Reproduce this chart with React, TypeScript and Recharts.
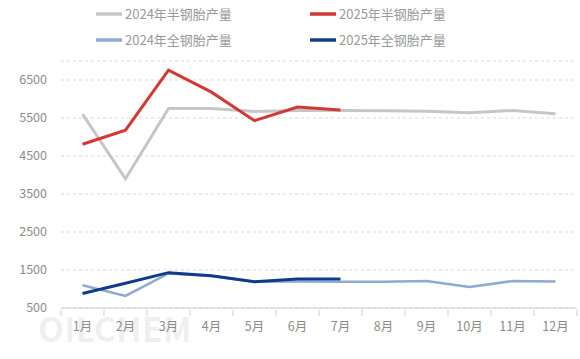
import { CartesianGrid, Line, LineChart, XAxis, YAxis } from "recharts";

const months = ["1月", "2月", "3月", "4月", "5月", "6月", "7月", "8月", "9月", "10月", "11月", "12月"];
const semiSteel2024 = [5600, 3900, 5750, 5750, 5670, 5700, 5700, 5690, 5680, 5640, 5700, 5610];
const semiSteel2025 = [4810, 5180, 6760, 6180, 5430, 5790, 5710, null, null, null, null, null];
const allSteel2024 = [1100, 820, 1410, 1340, 1190, 1200, 1190, 1190, 1210, 1050, 1210, 1200];
const allSteel2025 = [880, 1150, 1430, 1350, 1190, 1260, 1260, null, null, null, null, null];
const yTicks = [500, 1500, 2500, 3500, 4500, 5500, 6500];

const data = months.map((month, i) => ({
  month,
  semi2024: semiSteel2024[i],
  semi2025: semiSteel2025[i],
  all2024: allSteel2024[i],
  all2025: allSteel2025[i]
}));

const series = [
  { key: "semi2024", name: "2024年半钢胎产量", color: "#c6c6c6", width: 3 },
  { key: "all2024", name: "2024年全钢胎产量", color: "#8eaad0", width: 2.5 },
  { key: "semi2025", name: "2025年半钢胎产量", color: "#d03a32", width: 3 },
  { key: "all2025", name: "2025年全钢胎产量", color: "#0e3c8a", width: 3 }
];

const legendOrder = [
  ["semi2024", "semi2025"],
  ["all2024", "all2025"]
];

const font = '"Noto Sans CJK SC", "Noto Sans", sans-serif';
const band = 43;

function ChartLegend() {
  return (
    <svg width={580} height={52} style={{ position: "absolute", left: 0, top: 0 }}>
      {legendOrder.map((row, r) =>
        row.map((key, c) => {
          const s = series.find((item) => item.key === key)!;
          const x = c === 0 ? 96 : 310;
          const y = 14 + r * 26;
          return (
            <g key={key}>
              <line x1={x} x2={x + 26} y1={y} y2={y} stroke={s.color} strokeWidth={3.5} />
              <text x={x + 29} y={y + 4.5} fontSize={13} fill="#9a9a9a" fontFamily={font}>
                {s.name}
              </text>
            </g>
          );
        })
      )}
    </svg>
  );
}

// ticks sit between months, like a boundary-gap category axis
function MonthTick(props: any) {
  const { x, y, payload, index } = props;
  const left = x - band / 2;
  return (
    <g>
      <line x1={left} x2={left} y1={y - 6} y2={y} stroke="#cfcfcf" />
      {index === months.length - 1 ? (
        <line x1={left + band} x2={left + band} y1={y - 6} y2={y} stroke="#cfcfcf" />
      ) : null}
      <text x={x} y={y + 15} textAnchor="middle" fontSize={12.5} fill="#8c8c8c" fontFamily={font}>
        {payload.value}
      </text>
    </g>
  );
}

export default function App() {
  return (
    <div style={{ position: "absolute", left: 0, top: 0, width: 580, height: 359, background: "#fff" }}>
      <LineChart width={580} height={359} data={data} margin={{ top: 61, right: 3, bottom: 0, left: 0 }}>
        <CartesianGrid stroke="#d9d9d9" strokeDasharray="3 3" vertical={false} />
        <XAxis
          dataKey="month"
          axisLine={{ stroke: "#cfcfcf" }}
          tickLine={false}
          tick={<MonthTick />}
          interval={0}
          padding={{ left: band / 2, right: band / 2 }}
          height={51}
        />
        <YAxis
          domain={[500, 7000]}
          ticks={yTicks}
          width={61}
          axisLine={false}
          tickLine={false}
          tick={{ fontSize: 12.5, fill: "#8c8c8c", fontFamily: font }}
          tickMargin={8}
        />
        {series.map((s) => (
          <Line
            key={s.key}
            dataKey={s.key}
            name={s.name}
            stroke={s.color}
            strokeWidth={s.width}
            dot={false}
            activeDot={false}
            type="linear"
            isAnimationActive={false}
          />
        ))}
        <text x={38} y={342} fontSize={34} fontWeight={700} fill="#000" fillOpacity={0.07} fontFamily={font}>
          OILCHEM
        </text>
      </LineChart>
      <ChartLegend />
    </div>
  );
}
